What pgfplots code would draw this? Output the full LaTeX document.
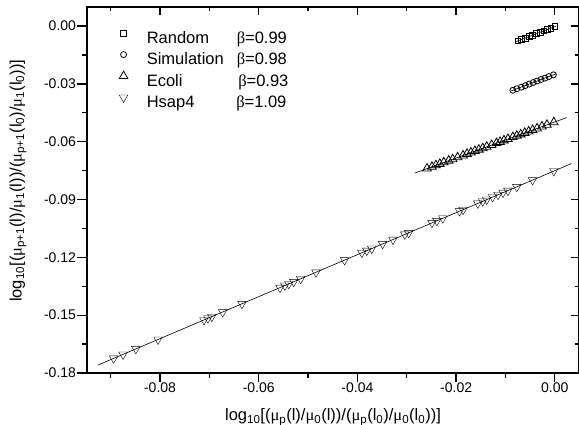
\documentclass[border=0pt]{standalone}
\usepackage{fontspec}
\setmainfont{Liberation Sans}
\newfontfamily\grk{Liberation Serif}
\usepackage{pgfplots}
\pgfplotsset{compat=1.18}
\newcommand{\mug}{{\grk μ}}
\newcommand{\sub}[1]{\textsubscript{#1}}
\pgfplotsset{
  common/.style={
    scale only axis, width=492pt, height=366pt,
    xmin=-0.0948, xmax=0.0049, ymin=-0.18, ymax=0.0099,
    xtick={-0.08,-0.06,-0.04,-0.02,0},
    minor xtick={-0.09,-0.07,-0.05,-0.03,-0.01},
    ytick={-0.18,-0.15,-0.12,-0.09,-0.06,-0.03,0},
    minor ytick={-0.165,-0.135,-0.105,-0.075,-0.045,-0.015},
    scaled ticks=false,
    axis line style={line width=1.3pt},
    every tick/.style={black, line width=1.3pt},
  }
}
\begin{document}
\begin{tikzpicture}
\begin{axis}[common,
  tick align=outside, xtick pos=left, ytick pos=left,
  major tick length=9.5pt, minor tick length=5pt,
  /pgf/number format/assume math mode=true,
  /pgf/number format/fixed, /pgf/number format/fixed zerofill, /pgf/number format/precision=2,
  ticklabel style={font=\fontsize{14}{16}\selectfont},
  xticklabel style={/tikz/yshift=3pt},
  yticklabel style={/tikz/xshift=2pt},
  xlabel={log\sub{10}[(\mug\sub{p}(l)/\mug\sub{0}(l))/(\mug\sub{p}(l\sub{0})/\mug\sub{0}(l\sub{0}))]},
  ylabel={log\sub{10}[(\mug\sub{p+1}(l)/\mug\sub{1}(l))/(\mug\sub{p+1}(l\sub{0})/\mug\sub{1}(l\sub{0}))]},
  label style={font=\fontsize{16.5}{19}\selectfont},
  xlabel style={at={(axis description cs:0.5,-0.131)}, anchor=base},
  ylabel style={at={(axis description cs:-0.140,0.525)}, anchor=center},
  legend style={at={(axis cs:-0.0897,0.0)}, anchor=north west, draw=none, fill=none,
    inner xsep=3pt, inner ysep=2pt, row sep=0pt,
    font=\fontsize{16.5}{19}\selectfont,
    nodes={inner xsep=2pt, inner ysep=1.2pt, text height=14pt, text depth=5pt}},
  legend image code/.code={\path (-8pt,0pt) (21pt,0pt); \draw[#1] plot coordinates {(0pt,5.8pt)};},
  legend cell align=left,
  mark options={line width=0.8pt, solid},
]
% fitted lines
\addplot[black, line width=0.6pt, forget plot] coordinates {(-0.0078,-0.0080) (0.0003,0.0000)};
\addplot[black, line width=0.6pt, forget plot] coordinates {(-0.0088,-0.0336) (0.0003,-0.0247)};
\addplot[black, line width=0.6pt, forget plot] coordinates {(-0.0284,-0.0763) (0.0024,-0.0475)};
\addplot[black, line width=0.6pt, forget plot] coordinates {(-0.0926,-0.1759) (0.0034,-0.0713)};
% Random
\addplot[only marks, mark=square, mark size=2.9pt, black] coordinates {
(-0.0075,-0.0077) (-0.0068,-0.0070) (-0.0060,-0.0062) (-0.0052,-0.0055) (-0.0045,-0.0047)
(-0.0037,-0.0040) (-0.0030,-0.0032) (-0.0022,-0.0025) (-0.0015,-0.0018) (-0.0008,-0.0011) (0.0000,-0.0003)};
\addlegendentry{\makebox[90pt][l]{Random}{\grk β}=0.99}
% Simulation
\addplot[only marks, mark=o, mark size=3pt, black] coordinates {
(-0.0085,-0.0333) (-0.0077,-0.0325) (-0.0068,-0.0317) (-0.0060,-0.0309) (-0.0052,-0.0301)
(-0.0044,-0.0293) (-0.0036,-0.0285) (-0.0028,-0.0277) (-0.0020,-0.0270) (-0.0012,-0.0262) (-0.0003,-0.0253)};
\addlegendentry{\makebox[90pt][l]{Simulation}{\grk β}=0.98}
% Ecoli
\addplot[only marks, mark=triangle, mark size=5pt, black] coordinates {
(-0.0259,-0.0739) (-0.0249,-0.0730) (-0.0241,-0.0722) (-0.0233,-0.0715) (-0.0225,-0.0707)
(-0.0215,-0.0698) (-0.0207,-0.0691) (-0.0197,-0.0681) (-0.0186,-0.0671) (-0.0178,-0.0663)
(-0.0170,-0.0656) (-0.0162,-0.0648) (-0.0154,-0.0641) (-0.0146,-0.0634) (-0.0138,-0.0626)
(-0.0128,-0.0617) (-0.0118,-0.0607) (-0.0111,-0.0601) (-0.0103,-0.0593) (-0.0095,-0.0586)
(-0.0085,-0.0576) (-0.0077,-0.0569) (-0.0069,-0.0562) (-0.0061,-0.0554) (-0.0053,-0.0547)
(-0.0045,-0.0539) (-0.0036,-0.0531) (-0.0026,-0.0521) (-0.0016,-0.0512) (-0.0002,-0.0499)};
\addlegendentry{\makebox[91.5pt][l]{Ecoli}{\grk β}=0.93}
% Hsap4
\addplot[only marks, mark=triangle, mark size=5pt, black, mark options={rotate=180}] coordinates {
(-0.0894,-0.1724) (-0.0875,-0.1704) (-0.0849,-0.1675) (-0.0804,-0.1626) (-0.0711,-0.1525)
(-0.0703,-0.1516) (-0.0695,-0.1508) (-0.0673,-0.1484) (-0.0634,-0.1441) (-0.0557,-0.1357)
(-0.0547,-0.1346) (-0.0539,-0.1338) (-0.0529,-0.1327) (-0.0515,-0.1311) (-0.0484,-0.1278)
(-0.0426,-0.1214) (-0.0391,-0.1176) (-0.0381,-0.1165) (-0.0371,-0.1154) (-0.0349,-0.1130)
(-0.0328,-0.1108) (-0.0304,-0.1081) (-0.0296,-0.1073) (-0.0249,-0.1021) (-0.0239,-0.1011)
(-0.0227,-0.0997) (-0.0193,-0.0960) (-0.0186,-0.0953) (-0.0156,-0.0920) (-0.0146,-0.0909)
(-0.0138,-0.0900) (-0.0126,-0.0887) (-0.0115,-0.0875) (-0.0105,-0.0864) (-0.0095,-0.0854)
(-0.0077,-0.0834) (-0.0045,-0.0799) (-0.0002,-0.0752)};
\addlegendentry{\makebox[89.5pt][l]{Hsap4}{\grk β}=1.09}
\end{axis}
\begin{axis}[common,
  tick align=inside, xtick pos=right, ytick pos=right,
  major tick length=8pt, minor tick length=4pt,
  xticklabels={}, yticklabels={},
]
\end{axis}
\pgfresetboundingbox
\path ([shift={(-87pt,-52pt)}]current axis.south west) rectangle ([shift={(0pt,7pt)}]current axis.north east);
\end{tikzpicture}
\end{document}
